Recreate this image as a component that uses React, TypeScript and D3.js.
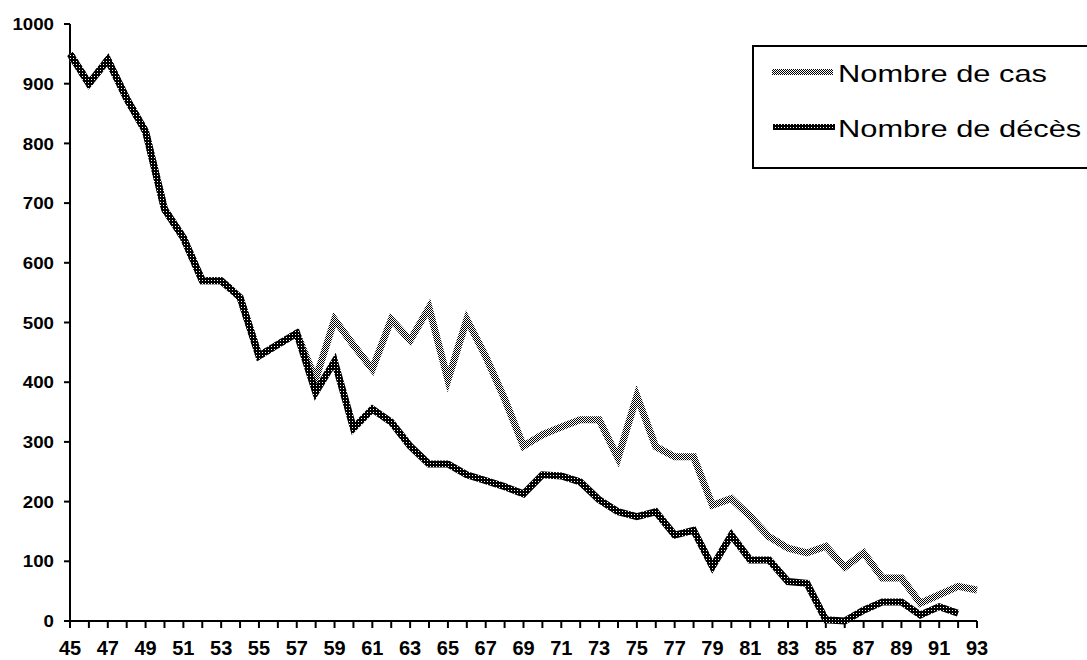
import React from "react";
import * as d3 from "d3";

const years: number[] = d3.range(45, 94);
const yTicks: number[] = [0, 100, 200, 300, 400, 500, 600, 700, 800, 900, 1000];
const xLabelYears: number[] = d3.range(45, 94, 2);

// Nombre de cas, 1945–1993
const cases: number[] = [
  950, 900, 940, 875, 820, 690, 642, 570, 570, 542, 444, 463, 482,
  405, 505, 462, 422, 505, 470, 525, 404, 505, 443, 372, 293,
  312, 325, 337, 337, 273, 377, 292, 275, 275, 194, 205, 175, 141, 122, 114,
  125, 90, 114, 72, 72, 30, 44, 58, 52,
];
// Nombre de décès, 1945–1992
const deaths: number[] = [
  950, 900, 940, 875, 820, 690, 642, 570, 570, 542, 444, 463, 482,
  383, 435, 323, 355, 333, 293, 263, 263, 245, 235, 225, 213,
  245, 243, 233, 203, 183, 175, 183, 144, 152, 91, 144, 102, 102, 66, 63,
  2, 0, 18, 32, 32, 10, 24, 13,
];
const seriesNames: string[] = ["Nombre de cas", "Nombre de décès"];

const W = 1087;
const H = 660;
const FONT = "'Liberation Sans', Arial, Helvetica, sans-serif";

export default function App() {
  const x = d3.scaleLinear().domain([45, 93]).range([70, 977]);
  const y = d3.scaleLinear().domain([0, 1000]).range([621, 24]);
  const line = d3
    .line<number>()
    .x((_, i) => x(years[i]))
    .y((v) => y(v))
    .curve(d3.curveLinear);

  const casesPath = line(cases) || "";
  const deathsPath = line(deaths) || "";

  return (
    <svg
      width={W}
      height={H}
      style={{ position: "absolute", left: 0, top: 0, background: "#fff" }}
    >
      <defs>
        <pattern id="pCas" width={2} height={2} patternUnits="userSpaceOnUse">
          <rect width={2} height={2} fill="#fff" />
          <rect x={0} y={0} width={1} height={1} fill="#000" />
          <rect x={1} y={1} width={1} height={1} fill="#000" />
        </pattern>
        <pattern id="pDec" width={3} height={3} patternUnits="userSpaceOnUse">
          <rect width={3} height={3} fill="#000" />
          <rect x={1} y={1} width={1} height={1} fill="#fff" />
        </pattern>
      </defs>
      <rect width={W} height={H} fill="#fff" />

      {/* axes */}
      <line x1={x(45)} x2={x(45)} y1={y(1000)} y2={y(0)} stroke="#000" strokeWidth={2} />
      <line x1={x(45)} x2={x(93)} y1={y(0)} y2={y(0)} stroke="#000" strokeWidth={2} />
      {yTicks.map((t) => (
        <g key={"yt" + t}>
          <line x1={x(45) - 6} x2={x(45)} y1={y(t)} y2={y(t)} stroke="#000" strokeWidth={2} />
          <text
            x={54}
            y={y(t)}
            dy="0.36em"
            textAnchor="end"
            fontFamily={FONT}
            fontWeight="bold"
            fontSize={17}
            fill="#000"
            transform={`translate(54,0) scale(1.1,1) translate(-54,0)`}
          >
            {t}
          </text>
        </g>
      ))}
      {years.map((yr) => (
        <line
          key={"xt" + yr}
          x1={x(yr)}
          x2={x(yr)}
          y1={y(0)}
          y2={y(0) + 7}
          stroke="#000"
          strokeWidth={2}
        />
      ))}
      {xLabelYears.map((yr) => (
        <text
          key={"xl" + yr}
          x={x(yr)}
          y={655}
          textAnchor="middle"
          fontFamily={FONT}
          fontWeight="bold"
          fontSize={20}
          fill="#000"
        >
          {yr}
        </text>
      ))}

      {/* series */}
      <path d={casesPath} fill="none" stroke="url(#pCas)" strokeWidth={7} strokeLinejoin="miter" />
      <path d={deathsPath} fill="none" stroke="url(#pDec)" strokeWidth={7} strokeLinejoin="miter" />

      {/* legend */}
      <rect x={753} y={46} width={W - 753 + 5} height={122} fill="#fff" stroke="#000" strokeWidth={2} />
      <line x1={772} x2={833} y1={72} y2={72} stroke="url(#pCas)" strokeWidth={6} />
      <line x1={773} x2={835} y1={127} y2={127} stroke="url(#pDec)" strokeWidth={6} />
      <g transform="translate(838,82) scale(1.34,1)">
        <text x={0} y={0} fontFamily={FONT} fontSize={23} fill="#000">
          {seriesNames[0]}
        </text>
      </g>
      <g transform="translate(838,137) scale(1.34,1)">
        <text x={0} y={0} fontFamily={FONT} fontSize={23} fill="#000">
          {seriesNames[1]}
        </text>
      </g>
    </svg>
  );
}
